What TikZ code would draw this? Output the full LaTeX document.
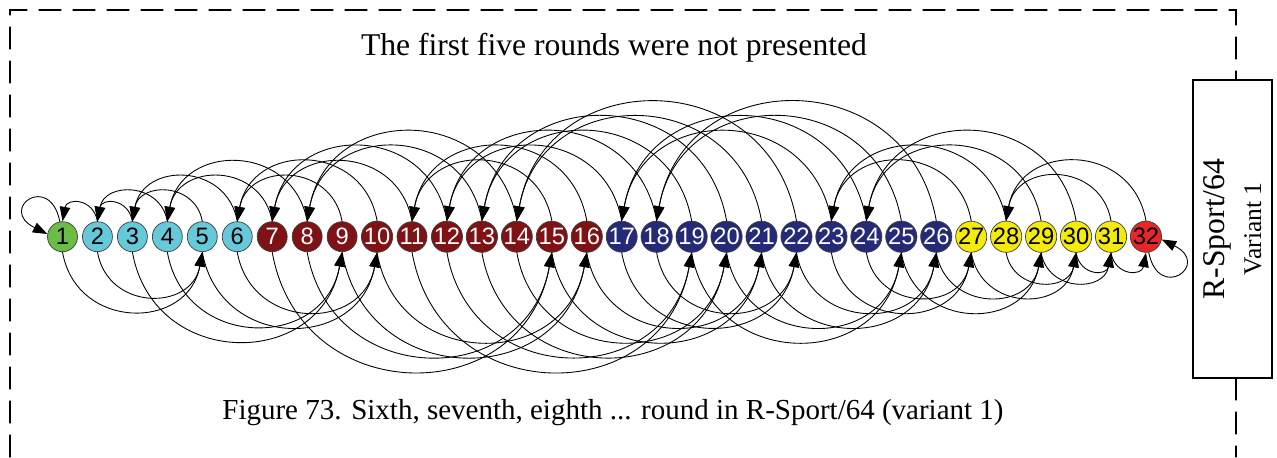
\documentclass[tikz,border=0pt]{standalone}
\usepackage{fontspec}
\setmainfont{Liberation Serif}
\newfontfamily\numfont{Liberation Sans}
\usetikzlibrary{arrows.meta}
\definecolor{cGreen}{RGB}{108,189,69}
\definecolor{cCyan}{RGB}{102,201,217}
\definecolor{cMaroon}{RGB}{126,18,20}
\definecolor{cNavy}{RGB}{37,42,120}
\definecolor{cYellow}{RGB}{244,235,10}
\definecolor{cRed}{RGB}{232,38,42}

\begin{document}
\begin{tikzpicture}[>={Triangle[length=2.9mm,width=2.1mm]},line cap=round,
  player/.style={circle,draw=black!75,line width=0.4pt,minimum size=6mm,inner sep=0pt,
    font=\numfont\fontsize{13.5}{13.5}\selectfont},
  win/.style={->,line width=0.5pt,out=100,in=80,looseness=1.47},
  winnear/.style={win,looseness=1.75},
  lose/.style={->,line width=0.5pt,out=-80,in=-100,looseness=1.47},
  losenear/.style={lose,looseness=1.75},
  frame/.style={line width=0.6pt,dash pattern=on 4.4mm off 2.4mm}]
\useasboundingbox (0,0) rectangle (25.54,9.14);
% dashed frame and side box
\draw[frame] (0.2,0) -- (0.2,8.94) -- (24.72,8.94) -- (24.72,7.54);
\draw[frame] (24.72,1.58) -- (24.72,0);
\node[draw,line width=0.8pt,rotate=90,minimum width=5.96cm,minimum height=1.58cm,
  align=center,inner sep=0pt,font=\fontsize{18}{20}\selectfont] (variant) at (24.65,4.56)
  {R-Sport/64\\[1pt]{\fontsize{14.5}{20}\selectfont Variant 1}};
\node[font=\fontsize{18}{20}\selectfont] (title) at (12.28,8.18) {The first five rounds were not presented};
\node[font=\fontsize{16.5}{20}\selectfont] (caption) at (12.26,0.88)
  {Figure 73. Sixth, seventh, eighth ... round in R-Sport/64 (variant 1)};
% players
\foreach \a/\b/\c/\t in {1/1/cGreen/black,2/6/cCyan/black,7/16/cMaroon/white,
    17/26/cNavy/white,27/31/cYellow/black,32/32/cRed/black}
  \foreach \i in {\a,...,\b}
    \node[player,fill=\c,text=\t] (n\i) at ({1.25+(\i-1)*0.699},4.406) {\i};
% winners go up (left), losers go down (right)
\foreach \s/\t in {2/1,3/2}
  \draw[winnear] (n\s.north) to (n\t.north);
\foreach \s/\t in {4/2,5/3,6/3,7/4,8/4,9/6,10/6,11/7,12/7,13/8,14/8,15/11,16/11,
    17/12,18/12,19/13,20/13,21/14,22/14,23/17,24/17,25/18,26/18,27/23,28/23,
    29/24,30/24,31/28,32/28}
  \draw[win] (n\s.north) to (n\t.north);
\foreach \s/\t in {1/5,2/5,3/9,4/9,5/10,6/10,7/15,8/15,9/16,10/16,11/19,12/19,
    13/20,14/20,15/21,16/21,17/22,18/22,19/25,20/25,21/26,22/26,23/27,24/27,
    25/29,26/29,27/30,28/30,29/31}
  \draw[lose] (n\s.south) to (n\t.south);
\foreach \s/\t in {30/31,31/32}
  \draw[losenear] (n\s.south) to (n\t.south);
% first and last stay in place
\draw[->,line width=0.5pt] (n1.100) .. controls +(-0.2,1.0) and +(-1.0,0.5) .. (n1.170);
\draw[->,line width=0.5pt] (n32.280) .. controls +(0.2,-1.0) and +(1.0,-0.5) .. (n32.350);
\end{tikzpicture}
\end{document}
